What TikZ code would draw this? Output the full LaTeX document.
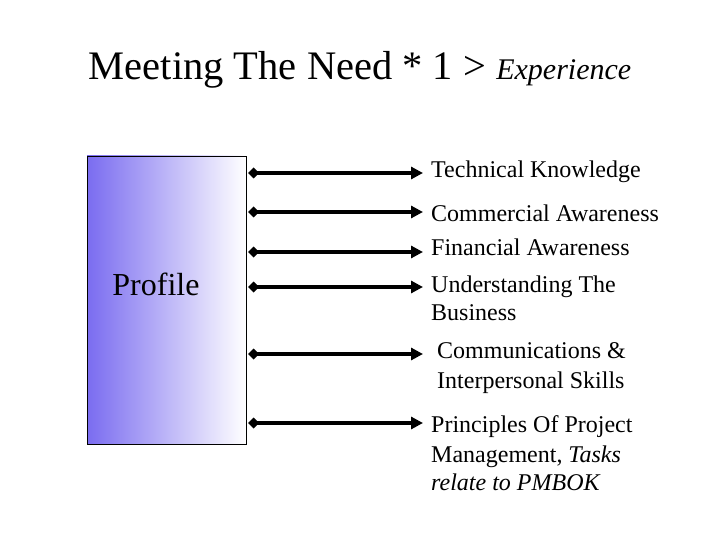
\documentclass[tikz,border=0pt]{standalone}
\usepackage{fontspec}
\setmainfont{Liberation Serif}
\usetikzlibrary{arrows.meta}
\definecolor{profblue}{RGB}{122,108,240}
\begin{document}
\begin{tikzpicture}[x=1pt,y=-1pt,
  link/.style={line width=3.6pt,{Diamond[length=11pt,width=11pt]}-{Triangle[length=12pt,width=12pt]}},
  lbl/.style={anchor=base west,inner sep=0pt,font=\fontsize{24}{29}\selectfont}]
\useasboundingbox (0,0) rectangle (720,540);
\node[anchor=base,inner sep=0pt] (title) at (360,80) {\fontsize{40.5}{44}\selectfont Meeting The Need * 1 > \fontsize{30}{33}\selectfont\itshape Experience};
\shade[left color=profblue,right color=white,middle color=profblue!50] (87,156) rectangle (246,444);
\draw[line width=0.8pt] (87,156) rectangle (246,444);
\node[rectangle,minimum width=159pt,minimum height=288pt,inner sep=0pt] (prof) at (166.5,300) {};
\node[inner sep=0pt,font=\fontsize{32}{36}\selectfont] (ptxt) at (156,284) {Profile};
\coordinate (s1) at (248,173); \coordinate (e1) at (423,173);
\coordinate (s2) at (248,212); \coordinate (e2) at (423,212);
\coordinate (s3) at (248,252); \coordinate (e3) at (423,252);
\coordinate (s4) at (248,287); \coordinate (e4) at (423,287);
\coordinate (s5) at (248,354); \coordinate (e5) at (423,354);
\coordinate (s6) at (248,423); \coordinate (e6) at (423,423);
\foreach \i in {1,...,6} {\draw[link] (s\i) -- (e\i);}
\node[lbl] (t1) at (431,178) {Technical Knowledge};
\node[lbl] (t2) at (431,222) {Commercial Awareness};
\node[lbl] (t3) at (431,255) {Financial Awareness};
\node[lbl] (t4) at (431,292) {Understanding The};
\node[lbl] (t4b) at (431,320) {Business};
\node[lbl] (t5) at (437,358) {Communications \&};
\node[lbl] (t5b) at (437,388) {Interpersonal Skills};
\node[lbl] (t6) at (431,432) {Principles Of Project};
\node[lbl] (t6b) at (431,462) {Management, \textit{Tasks}};
\node[lbl] (t6c) at (431,490) {\textit{relate to PMBOK}};
\end{tikzpicture}
\end{document}
